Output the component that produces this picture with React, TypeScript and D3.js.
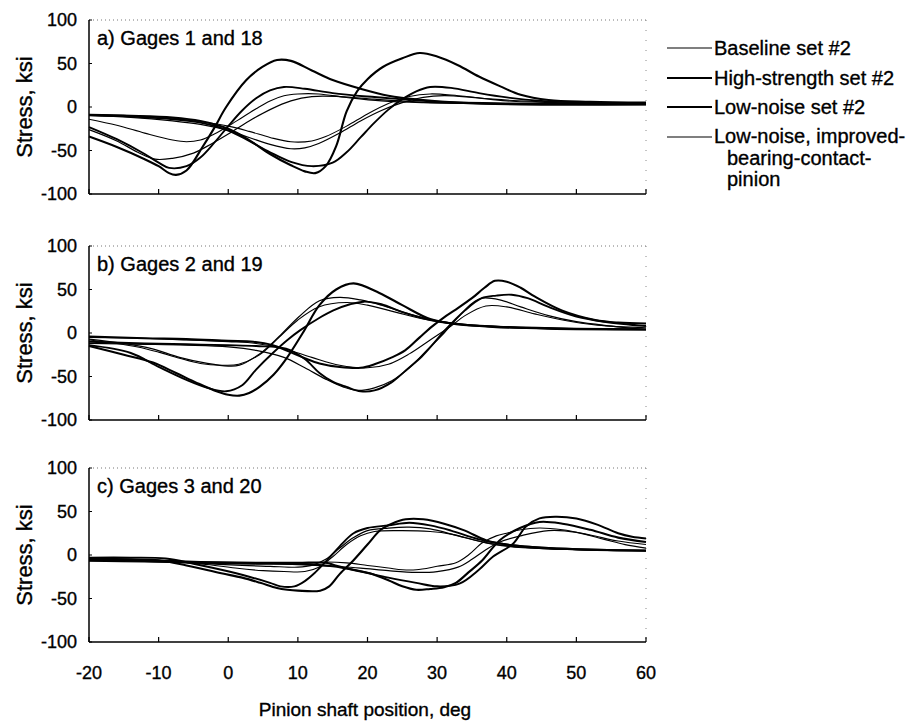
import React from "react";
import * as d3 from "d3";

type Pt = [number, number];

const xTicks = [-20, -10, 0, 10, 20, 30, 40, 50, 60];
const yTicks = [100, 50, 0, -50, -100];
const seriesNames = ["Baseline set #2", "High-strength set #2", "Low-noise set #2"];
const lastSeriesLines = ["Low-noise, improved-", "bearing-contact-", "pinion"];
const panelTitles = ["a) Gages 1 and 18", "b) Gages 2 and 19", "c) Gages 3 and 20"];

// panel a
const gage1Baseline: Pt[] = [[-20,-14],[-16,-21],[-12,-30],[-8,-38],[-6,-40],[-4,-38],[-2,-31],[0,-22],[2,-12],[4,-2],[6,7],[8,13],[10,15],[13,15],[17,11],[22,7],[28,5],[36,4],[46,3],[60,3]];
const gage1HighStrength: Pt[] = [[-20,-34],[-16,-46],[-12,-60],[-10,-68],[-8.5,-76],[-7.5,-78],[-6,-73],[-3.7,-46],[-2,-24],[-0.3,0],[2.6,31],[4.9,46],[7,54],[9,53],[12,42],[15,31],[19,21],[23,13],[28,8],[33,5],[42,3],[60,3]];
const gage1LowNoise: Pt[] = [[-20,-23],[-16,-37],[-12,-54],[-10,-64],[-8.5,-70],[-6,-68],[-4,-58],[-2,-41],[0,-22],[2,-4],[4,10],[6,19],[8,23],[11,21],[15,16],[20,12],[25,9],[30,6],[40,4],[60,3]];
const gage1LowNoiseIBC: Pt[] = [[-20,-26],[-16,-39],[-13,-52],[-10.5,-60],[-8,-59],[-5,-53],[-3,-45],[0,-31],[3,-16],[6,-3],[9,7],[12,12],[16,12],[21,9],[27,6],[35,4],[46,3],[60,3]];
const gage18Baseline: Pt[] = [[-20,-9],[-14,-10],[-8,-13],[-4,-17],[0,-22],[3,-28],[6,-35],[9,-40],[12,-39],[14,-34],[17,-22],[20,-8],[23,4],[26,12],[29,15],[33,13],[38,9],[45,6],[52,5],[60,4]];
const gage18HighStrength: Pt[] = [[-20,-9],[-14,-10],[-8,-12],[-4,-16],[0,-25],[3,-38],[6,-54],[9,-67],[11,-74],[12.5,-76],[14,-68],[15.5,-45],[17,-5],[18.5,18],[20,32],[22.2,46],[25,56],[27.5,62],[30,58],[33,48],[36,35],[39,24],[42,14],[46,8],[52,6],[60,5]];
const gage18LowNoise: Pt[] = [[-20,-9],[-14,-11],[-8,-14],[-4,-18],[0,-27],[3,-39],[6,-52],[9,-63],[12,-68],[15,-64],[17,-52],[19,-35],[21,-18],[23,-3],[25,9],[27,18],[29,23],[32,22],[36,16],[40,11],[45,7],[52,5],[60,4]];
const gage18LowNoiseIBC: Pt[] = [[-20,-10],[-14,-12],[-8,-16],[-4,-20],[0,-27],[3,-35],[6,-43],[9,-48],[11,-47],[13,-42],[16,-30],[19,-16],[22,-4],[25,5],[28,11],[31,13],[35,11],[40,7],[47,5],[60,4]];

// panel b
const gage2Baseline: Pt[] = [[-20,-8],[-16,-12],[-13,-16],[-10,-22],[-7,-29],[-4,-35],[-1,-37],[1.5,-36],[4.5,-25],[7.3,-5],[10,15],[13,30],[17,35],[20,32],[24,24],[28,16],[32,11],[38,7],[46,5],[60,4]];
const gage2HighStrength: Pt[] = [[-20,-15],[-15,-25],[-10.8,-34],[-7.5,-46],[-4.6,-57],[-2,-66],[0,-71],[1.6,-72],[3,-69],[4.5,-62],[6.5,-48],[8.3,-30],[10.7,0],[13.1,32],[15.5,50],[18,57],[21.7,46],[25,32],[29,16],[33,10],[38,7],[46,5],[60,4]];
const gage2LowNoise: Pt[] = [[-20,-14],[-14,-23],[-10,-39],[-6,-54],[-3,-63],[-0.3,-67],[2,-60],[4,-42],[6.4,-23],[8.5,-8],[10.3,3],[13,17],[15.1,26],[17.5,33],[19.5,36],[22,33],[25,24],[29,15],[33,10],[40,7],[50,5],[60,4]];
const gage2LowNoiseIBC: Pt[] = [[-20,-7],[-15,-12],[-11,-18],[-7,-28],[-3,-35],[0,-38],[1.6,-37],[4.5,-24],[7.3,-4],[10.2,19],[13.1,37],[16,41],[19,38],[22,32],[26,22],[30,14],[34,10],[40,7],[50,5],[60,4]];
const gage19Baseline: Pt[] = [[-20,-5],[-12,-6],[-6,-8],[0,-10],[4,-12],[8,-18],[12,-28],[16,-37],[20,-40],[23,-36],[26,-24],[29,-8],[32,8],[34,20],[37,31],[40,30],[44,22],[48,15],[53,9],[60,6]];
const gage19HighStrength: Pt[] = [[-20,-4],[-12,-6],[-6,-7],[0,-9],[3.6,-10],[6.4,-14],[8.3,-20],[11,-29],[13.1,-35],[16,-39],[19,-40],[21,-36],[23.5,-28],[25.4,-20],[27.5,-5],[29.2,7],[31,18],[32.5,26],[35,40],[36.8,52],[38.3,60],[40,59],[42,52],[44,42],[47.9,26],[52.7,15],[56,12],[60,11]];
const gage19LowNoise: Pt[] = [[-20,-10],[-12,-12],[-6,-13],[0,-14],[4,-15],[8.3,-18],[11,-30],[13.1,-46],[15,-56],[17,-62],[19,-67],[21,-66],[23.4,-57],[25.5,-43],[27.8,-27],[29.5,-12],[31.1,3],[34,26],[36.4,40],[38.5,43],[40.7,44],[43,40],[46,30],[50,19],[54,13],[60,8]];
const gage19LowNoiseIBC: Pt[] = [[-20,-12],[-12,-13],[-6,-14],[0,-16],[4,-20],[8,-28],[11,-40],[14,-53],[16.5,-62],[18.5,-66],[21,-63],[23.5,-55],[26,-40],[28.5,-20],[31,0],[33,18],[35,34],[36.5,40],[39,38],[42,30],[46,20],[50,13],[55,8],[60,4]];

// panel c
const gage3Baseline: Pt[] = [[-20,-4],[-14,-5],[-8,-7],[-3,-11],[1,-15],[5,-18],[8,-19],[11,-19],[13,-14],[15,-2],[17,12],[19,22],[21,27],[25,28],[29,27],[32,24],[36,16],[40,10],[46,7],[53,6],[60,5]];
const gage3HighStrength: Pt[] = [[-20,-4],[-14,-5],[-10,-6],[-6,-12],[-1,-21],[2,-26],[4.6,-32],[7,-38],[8.5,-40],[10,-41],[13.2,-41],[14.5,-36],[16,-22],[18,-6],[20,12],[21.9,29],[23.5,36],[25.5,41],[28,41],[31,36],[34,28],[37,17],[40,12],[46,8],[53,6],[60,5]];
const gage3LowNoise: Pt[] = [[-20,-3],[-14,-3],[-9,-4],[-5,-10],[-1,-17],[3,-25],[6,-32],[7.5,-36],[9.5,-36],[11,-30],[12.5,-20],[14.2,-6],[16,10],[18,25],[20,31],[23,34],[26,37],[29,34],[32,28],[36,18],[40,12],[46,8],[53,6],[60,5]];
const gage3LowNoiseIBC: Pt[] = [[-20,-5],[-14,-6],[-8,-8],[-3,-10],[2,-12],[6,-13],[10,-14],[12,-12],[14,-5],[16,8],[18,20],[20,28],[23,31],[26,32],[29,30],[33,22],[37,14],[42,9],[50,6],[60,5]];
const gage20Baseline: Pt[] = [[-20,-6],[-12,-7],[-4,-8],[4,-9],[10,-10],[14,-8],[17,-9],[20,-12],[23,-15],[25,-17],[27,-17],[30,-13],[32.7,-9],[34.5,0],[36.5,14],[38.5,22],[40,25],[42,29],[44.7,31],[48,29],[52,23],[56,16],[60,12]];
const gage20HighStrength: Pt[] = [[-20,-5],[-12,-6],[-4,-8],[4,-9],[10,-9],[14,-9],[15.4,-12],[18,-17],[20.3,-21],[23,-29],[25,-36],[27,-40],[29,-39],[31,-37],[32.7,-32],[34.5,-20],[36.5,-6],[39,17],[41.9,31],[44.7,38],[48,36],[52,29],[56,20],[60,15]];
const gage20LowNoise: Pt[] = [[-20,-6],[-12,-7],[-4,-9],[4,-10],[10,-10],[15,-13],[19,-19],[23,-26],[27,-32],[30,-36],[33.2,-33],[36,-17],[38,-2],[40.9,13],[42.8,33],[44.7,42],[47,44],[50,42],[53,35],[56,25],[58,21],[60,19]];
const gage20LowNoiseIBC: Pt[] = [[-20,-7],[-12,-8],[-4,-9],[4,-10],[10,-11],[15,-13],[19,-15],[23,-18],[27,-20],[30,-19],[33,-14],[35,-5],[37,6],[39,15],[42,22],[46,28],[50,26],[54,18],[57,12],[60,8]];

const panelCurves: Pt[][][] = [
  [gage1Baseline, gage1HighStrength, gage1LowNoise, gage1LowNoiseIBC, gage18Baseline, gage18HighStrength, gage18LowNoise, gage18LowNoiseIBC],
  [gage2Baseline, gage2HighStrength, gage2LowNoise, gage2LowNoiseIBC, gage19Baseline, gage19HighStrength, gage19LowNoise, gage19LowNoiseIBC],
  [gage3Baseline, gage3HighStrength, gage3LowNoise, gage3LowNoiseIBC, gage20Baseline, gage20HighStrength, gage20LowNoise, gage20LowNoiseIBC],
];

const widths = [1.1, 2.1, 1.9, 1.2];
const font = "'Liberation Sans', Arial, sans-serif";
// scanned print looks heavier than a plain regular weight
const ink = { fill: "#000", stroke: "#000", strokeWidth: 0.35 };

export default function App() {
  const width = 923;
  const height = 726;
  const left = 89;
  const right = 646;
  const panelTops = [20, 246, 468];
  const panelH = 174;

  const x = d3.scaleLinear().domain([-20, 60]).range([left, right]);

  return (
    <svg width={width} height={height} style={{ position: "absolute", left: 0, top: 0, background: "#fff" }}>
      <rect width={width} height={height} fill="#fff" />
      {panelTops.map((top, p) => {
        const y = d3.scaleLinear().domain([-100, 100]).range([top + panelH, top]);
        const line = d3
          .line<Pt>()
          .x(d => x(d[0]))
          .y(d => y(d[1]))
          .curve(d3.curveCatmullRom.alpha(0.5));
        return (
          <g key={p}>
            {/* faint scanned top / right frame */}
            <line x1={left} x2={right} y1={top} y2={top} stroke="#777" strokeWidth={1} strokeDasharray="1 3" />
            <line x1={right} x2={right} y1={top} y2={top + panelH} stroke="#888" strokeWidth={1} strokeDasharray="1 9" />
            <line x1={left} x2={left} y1={top} y2={top + panelH} stroke="#000" strokeWidth={1.5} />
            <line x1={left} x2={right} y1={top + panelH} y2={top + panelH} stroke="#000" strokeWidth={1.5} />
            {xTicks.map(t => (
              <line key={t} x1={x(t)} x2={x(t)} y1={top + panelH} y2={top + panelH - 5} stroke="#000" strokeWidth={1.2} />
            ))}
            {yTicks.map(t => (
              <g key={t}>
                <line x1={left} x2={left + 3} y1={y(t)} y2={y(t)} stroke="#000" strokeWidth={1} />
                <text x={77} y={y(t) + 6} textAnchor="end" fontFamily={font} fontSize={18} {...ink}>
                  {t}
                </text>
              </g>
            ))}
            <text
              transform={`translate(32, ${top + panelH / 2}) rotate(-90)`}
              textAnchor="middle"
              fontFamily={font}
              fontSize={22}
              {...ink}
            >
              Stress, ksi
            </text>
            <text x={97} y={top + 25} fontFamily={font} fontSize={20} {...ink}>
              {panelTitles[p]}
            </text>
            {panelCurves[p].map((c, i) => (
              <path key={i} d={line(c) || ""} fill="none" stroke="#000" strokeWidth={widths[i % 4]} strokeLinejoin="round" />
            ))}
          </g>
        );
      })}
      {xTicks.map(t => (
        <text key={t} x={x(t)} y={679} textAnchor="middle" fontFamily={font} fontSize={18} {...ink}>
          {t}
        </text>
      ))}
      <text x={365} y={716} textAnchor="middle" fontFamily={font} fontSize={19} {...ink}>
        Pinion shaft position, deg
      </text>
      {[0, 1, 2, 3].map(i => {
        const ly = [48, 78, 107, 137][i];
        return (
          <line key={i} x1={667} x2={712} y1={ly} y2={ly} stroke="#000" strokeWidth={widths[i]} />
        );
      })}
      {seriesNames.map((s, i) => (
        <text key={s} x={714} y={[55, 85, 114][i]} fontFamily={font} fontSize={20} {...ink}>
          {s}
        </text>
      ))}
      {lastSeriesLines.map((s, i) => (
        <text key={s} x={i === 0 ? 714 : 727} y={[143, 165, 186][i]} fontFamily={font} fontSize={20} {...ink}>
          {s}
        </text>
      ))}
    </svg>
  );
}
